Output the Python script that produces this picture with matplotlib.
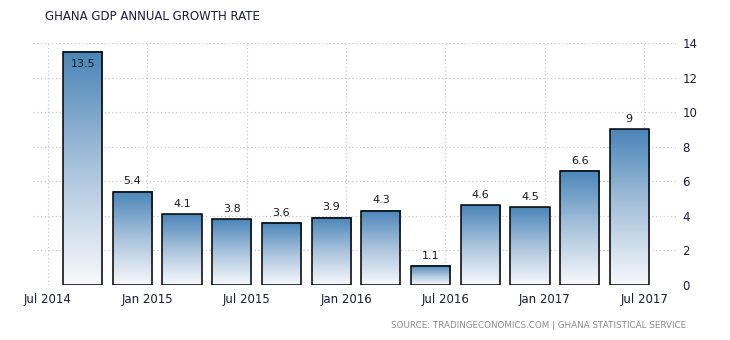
import numpy as np
import matplotlib
matplotlib.use("Agg")
import matplotlib.pyplot as plt
from matplotlib.patches import Rectangle
from matplotlib.colors import LinearSegmentedColormap

# Data
quarters = ["Q3 2014", "Q4 2014", "Q1 2015", "Q2 2015", "Q3 2015", "Q4 2015",
            "Q1 2016", "Q2 2016", "Q3 2016", "Q4 2016", "Q1 2017", "Q2 2017"]
values = [13.5, 5.4, 4.1, 3.8, 3.6, 3.9, 4.3, 1.1, 4.6, 4.5, 6.6, 9]
tick_labels = ["Jul 2014", "Jan 2015", "Jul 2015", "Jan 2016", "Jul 2016", "Jan 2017", "Jul 2017"]
y_ticks = [0, 2, 4, 6, 8, 10, 12, 14]

fig = plt.figure(figsize=(7.3, 3.4), dpi=100)
ax = fig.add_axes([33/730, 1-285/340, (677-33)/730, (285-43)/340])

cmap = LinearSegmentedColormap.from_list("g", ["#f7f9fc", "#a9c3dc", "#4a85b8"])
grad = np.linspace(0, 1, 256).reshape(-1, 1)

offset = 0.7
width = 0.79
xs = [offset + i for i in range(len(values))]
for x, v in zip(xs, values):
    ax.imshow(grad, extent=[x - width/2, x + width/2, 0, v], origin="lower",
              cmap=cmap, aspect="auto", zorder=2, interpolation="bicubic")
    ax.add_patch(Rectangle((x - width/2, 0), width, v, fill=False,
                           edgecolor="black", linewidth=1.1, zorder=3))
    if v > 13:
        ax.text(x, v - 0.4, f"{v:g}", ha="center", va="top", fontsize=8,
                color="#1a1a1a", zorder=4)
    else:
        ax.text(x, v + 0.3, f"{v:g}", ha="center", va="bottom", fontsize=8,
                color="#1a1a1a", zorder=4)

ax.set_xlim(-0.3, 12.66)
ax.set_ylim(0, 14)
ax.set_xticks([2*i for i in range(len(tick_labels))])
ax.set_xticklabels(tick_labels)
ax.set_yticks(y_ticks)
ax.yaxis.tick_right()
ax.tick_params(axis="both", length=0, labelsize=8.5, colors="#1a1a3a")
ax.tick_params(axis="x", pad=6)
ax.tick_params(axis="y", pad=4)
for s in ax.spines.values():
    s.set_visible(False)
ax.grid(True, linestyle=(0, (1, 2)), color="#c8c8c8", linewidth=0.9, zorder=0)
ax.set_axisbelow(True)

fig.text(45/730, 1-16/340, "GHANA GDP ANNUAL GROWTH RATE", fontsize=8.5,
         color="#1a1a3a", ha="left", va="center")
fig.text(686/730, 1-325/340, "SOURCE: TRADINGECONOMICS.COM | GHANA STATISTICAL SERVICE",
         fontsize=6.3, color="#8a8a8a", ha="right", va="center")

fig.savefig("out.png", dpi=100)
